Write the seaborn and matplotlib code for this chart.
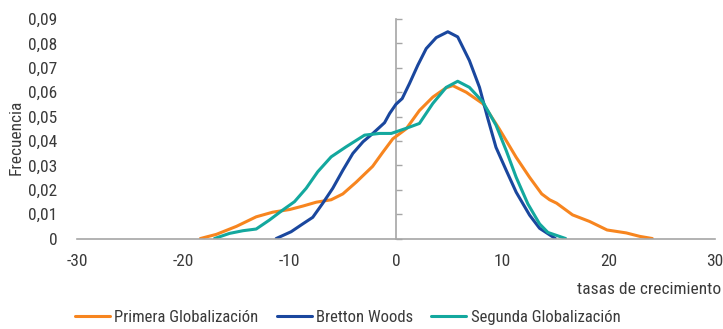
import matplotlib
matplotlib.use("Agg")
import matplotlib.pyplot as plt
import seaborn as sns

# growth-rate density curves
primera_x = [-18.4, -16.9, -15.0, -13.15, -11.6, -10.0, -8.77, -7.5, -6.1, -5.0, -3.75, -2.2, -1.24,
             -0.3, 0.96, 2.2, 3.46, 4.7, 5.34, 6.6, 8.2, 9.7, 11.3, 12.56, 13.7, 14.44, 15.1, 16.6,
             18.2, 19.85, 21.65, 22.9, 24.1]
primera_y = [0.0, 0.0017, 0.005, 0.0089, 0.0108, 0.0119, 0.0133, 0.0149, 0.0159, 0.0183, 0.0231,
             0.0296, 0.0354, 0.0409, 0.045, 0.0525, 0.058, 0.0618, 0.0627, 0.060, 0.0552, 0.045,
             0.0333, 0.0251, 0.0183, 0.0159, 0.0145, 0.0097, 0.007, 0.0035, 0.0023, 0.0009, 0.0]

bretton_x = [-11.27, -9.86, -8.77, -7.83, -6.9, -5.95, -5.0, -4.06, -3.1, -2.18, -1.08, -0.6, 0.0,
             0.58, 1.27, 2.05, 2.84, 3.78, 4.87, 5.8, 6.9, 7.85, 8.6, 9.4, 10.37, 11.3, 12.56,
             13.5, 14.98]
bretton_y = [0.0, 0.0028, 0.006, 0.0087, 0.0144, 0.0206, 0.028, 0.0349, 0.0397, 0.0431, 0.0475,
             0.0513, 0.0551, 0.0574, 0.0636, 0.0711, 0.0779, 0.0824, 0.0848, 0.0827, 0.073, 0.062,
             0.0497, 0.0374, 0.0279, 0.019, 0.0096, 0.0042, 0.0]

segunda_x = [-17.07, -15.66, -14.4, -13.15, -11.9, -10.65, -9.55, -8.45, -7.36, -6.1, -4.7, -2.96,
             -1.55, -0.45, 0.96, 2.2, 3.46, 4.72, 5.8, 6.9, 8.17, 9.4, 10.37, 11.3, 12.4, 13.5,
             14.28, 15.95]
segunda_y = [0.0, 0.0021, 0.0032, 0.0039, 0.0076, 0.0117, 0.0151, 0.0206, 0.0274, 0.0335, 0.0376,
             0.0424, 0.0431, 0.0431, 0.0452, 0.0472, 0.0554, 0.062, 0.0645, 0.062, 0.056, 0.0465,
             0.036, 0.0251, 0.0142, 0.006, 0.0025, 0.0]

x_ticks = [-30, -20, -10, 0, 10, 20, 30]
y_ticks = [0, 0.01, 0.02, 0.03, 0.04, 0.05, 0.06, 0.07, 0.08, 0.09]
y_labels = ["0", "0,01", "0,02", "0,03", "0,04", "0,05", "0,06", "0,07", "0,08", "0,09"]

sns.set_style("white")
plt.rcParams["font.family"] = ["Roboto Condensed", "DejaVu Sans"]
plt.rcParams["font.stretch"] = "condensed"
text_col = "#3a3a3a"
axis_col = "#a6a6a6"
fs = 12.5

fig = plt.figure(figsize=(7.23, 3.29), dpi=100)
ax = fig.add_axes([0.1065, 0.275, 0.8825, 0.667])

series = [
    ("Primera Globalización", primera_x, primera_y, "#f7851f"),
    ("Bretton Woods", bretton_x, bretton_y, "#1a479e"),
    ("Segunda Globalización", segunda_x, segunda_y, "#13a89e"),
]
for name, xs, ys, col in series:
    sns.lineplot(x=xs, y=ys, ax=ax, color=col, linewidth=2.2, label=name)
for ln in ax.get_lines():
    ln.set_solid_joinstyle("round")

ax.set_xlim(-30, 30)
ax.set_ylim(0, 0.09)
ax.set_xticks(x_ticks)
ax.set_xticklabels([str(t) for t in x_ticks])
ax.set_yticks(y_ticks)
ax.set_yticklabels(y_labels)

for s in ["top", "right", "left"]:
    ax.spines[s].set_visible(False)
ax.spines["bottom"].set_color(axis_col)
ax.spines["bottom"].set_linewidth(1.2)
ax.tick_params(axis="x", direction="out", length=4, width=1, color=axis_col,
               labelsize=fs, labelcolor=text_col, pad=7)
ax.tick_params(axis="y", length=0, labelsize=fs, labelcolor=text_col, pad=14)

# vertical axis crossing at x = 0 with its own tick marks
mid = ax.secondary_yaxis(0.5)
for sp in mid.spines.values():
    sp.set_color(axis_col)
    sp.set_linewidth(1.2)
mid.set_yticks(y_ticks)
mid.set_yticklabels([])
mid.tick_params(axis="y", direction="out", length=4, width=1, color=axis_col,
                labelleft=False, labelright=False)

ax.set_xlabel("")
ax.set_ylabel("")
fig.text(0.998, 0.12, "tasas de crecimiento", ha="right", va="center", fontsize=fs, color=text_col)
fig.text(0.022, 0.584, "Frecuencia", ha="center", va="center", rotation=90, fontsize=fs, color=text_col)

ax.legend(loc="center", bbox_to_anchor=(0.481, 0.035), bbox_transform=fig.transFigure, ncol=3,
          frameon=False, fontsize=12, handlelength=2.1, handletextpad=0.25, columnspacing=1.1,
          labelcolor=text_col)

fig.savefig("out.png", dpi=100)
